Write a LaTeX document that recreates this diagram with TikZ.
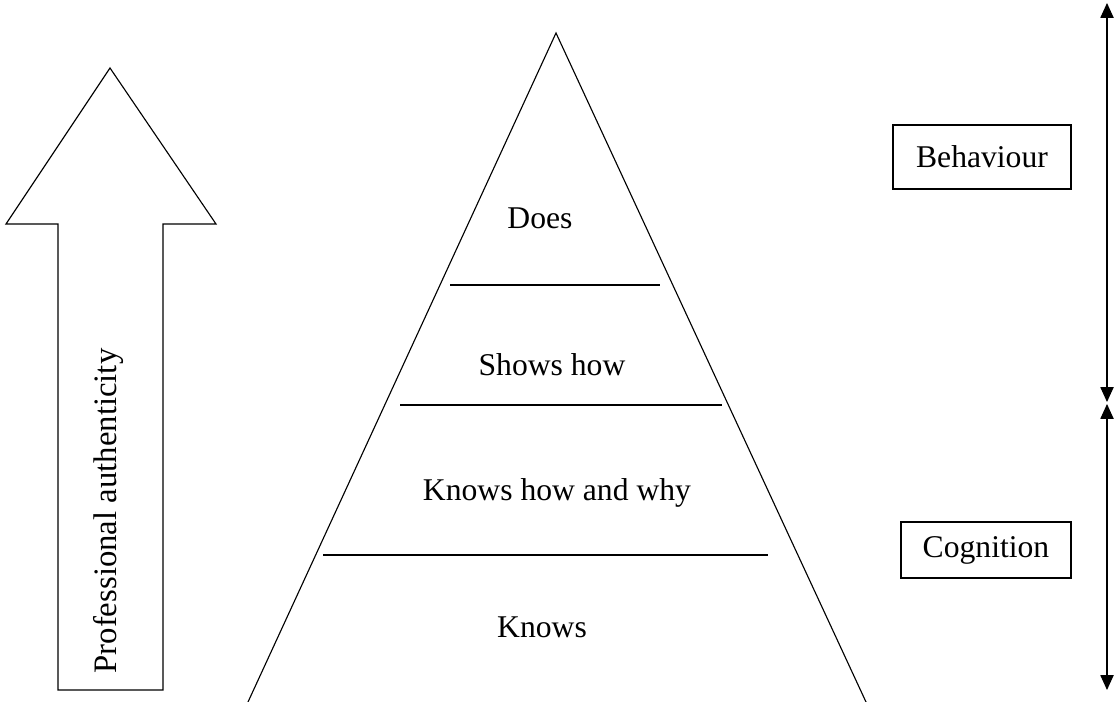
\documentclass[tikz,border=0pt]{standalone}
\usepackage{fontspec}
\setmainfont{Liberation Serif}
\usetikzlibrary{arrows.meta, positioning}

\begin{document}
\begin{tikzpicture}[
    x=0.025cm, y=-0.025cm,
    every node/.style={font=\fontsize{22.5}{27}\selectfont},
    level/.style={inner sep=0pt},
    tag/.style={draw, line width=0.8pt, inner sep=0pt},
    outline/.style={line width=0.8pt, line join=miter},
    span/.style={{Triangle[length=0.37cm, width=0.33cm]}-{Triangle[length=0.37cm, width=0.33cm]}, line width=0.8pt}
]
    \useasboundingbox (0,0) rectangle (1118,702);

    \draw[outline] (110,68) -- (216,224) -- (163,224) -- (163,690) -- (58,690)
        -- (58,224) -- (6,224) -- cycle;
    \node[level, rotate=90, font=\fontsize{23.3}{28}\selectfont] (auth) at (109,511) {Professional authenticity};

    \draw[outline] (248,702) -- (556,33) -- (866,702);
    \draw[outline] (450,285) -- (660,285);
    \draw[outline] (400,405) -- (722,405);
    \draw[outline] (323,555) -- (768,555);

    \node[level] (does) at (540,218) {Does};
    \node[level] (shows) at (552,365) {Shows how};
    \node[level] (knowshow) at (557,493) {Knows how and why};
    \node[level] (knows) at (542,627) {Knows};

    \node[tag, minimum width=4.45cm, minimum height=1.6cm] (behaviour) at (982,157) {Behaviour};
    \node[tag, minimum width=4.25cm, minimum height=1.4cm] (cognition) at (986,550) {Cognition};

    \coordinate (btop) at (1107,3);
    \coordinate (bend) at (1107,402);
    \coordinate (ctop) at (1107,404);
    \coordinate (cend) at (1107,690);
    \draw[span] (bend) -- (btop);
    \draw[span] (ctop) -- (cend);
\end{tikzpicture}
\end{document}
